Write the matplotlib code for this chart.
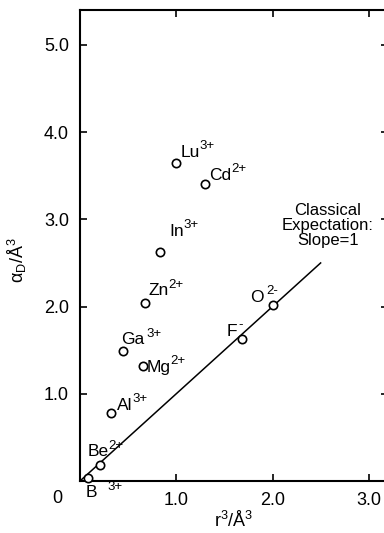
import matplotlib.pyplot as plt

plt.rcParams["font.family"] = ["Liberation Sans", "DejaVu Sans"]
plt.rcParams["mathtext.fontset"] = "custom"
plt.rcParams["mathtext.rm"] = "Liberation Sans"
plt.rcParams["mathtext.it"] = "Liberation Sans:italic"
plt.rcParams["mathtext.default"] = "regular"

# ions: r^3 (A^3) and polarizability alpha_D (A^3)
ions = ["B", "Be", "Al", "Ga", "Mg", "Zn", "In", "Lu", "Cd", "F", "O"]
charges = ["3+", "2+", "3+", "3+", "2+", "2+", "3+", "3+", "2+", "-", "2-"]
r_cubed = [0.08, 0.21, 0.32, 0.45, 0.65, 0.68, 0.83, 1.00, 1.30, 1.68, 2.00]
alpha_d = [0.03, 0.18, 0.78, 1.49, 1.32, 2.04, 2.63, 3.65, 3.41, 1.63, 2.02]
# label offsets in pixels from each point, and gap before the charge
label_dx = [-2, -13, 6, -2, 4, 3, 9, 4, 4, -15, -22]
label_dy = [-19, 9, 3, 7, -6, 8, 16, 6, 4, 3, 3]
sup_gap = [10, 0, 0, 2, 0, 0, 0, 0, 0, 1, 2]

# classical expectation, slope = 1
line_x = [0.0, 2.5]
line_y = [0.0, 2.5]

x_ticks = [1.0, 2.0, 3.0]
y_ticks = [1.0, 2.0, 3.0, 4.0, 5.0]

fig = plt.figure(figsize=(3.84, 5.33), dpi=100)
ax = fig.add_axes([80 / 384, 52 / 533, 308 / 384, 471 / 533])

ax.plot(line_x, line_y, color="black", lw=1.1, zorder=2)
ax.plot(r_cubed, alpha_d, "o", ms=6, mfc="white", mec="black", mew=1.2,
        zorder=3, clip_on=False)

for name, q, x, y, dx, dy, g in zip(ions, charges, r_cubed, alpha_d,
                                    label_dx, label_dy, sup_gap):
    main = ax.annotate(name, (x, y), xytext=(dx, dy), textcoords="offset pixels",
                       fontsize=12.5, ha="left", va="baseline")
    ax.annotate(q, xy=(1.0, 0.7), xycoords=main, xytext=(g, 0),
                textcoords="offset pixels", fontsize=9.5, ha="left",
                va="baseline")

ax.text(2.575, 2.93, "Classical\nExpectation:\nSlope=1", fontsize=12,
        ha="center", va="center", multialignment="center", linespacing=1.0)

ax.text(-0.24, -0.2, "0", fontsize=13, ha="center", va="center",
        transform=ax.transData)

ax.set_xlim(0, 3.2)
ax.set_ylim(0, 5.4)
ax.set_xticks(x_ticks)
ax.set_yticks(y_ticks)
ax.set_xticklabels(["%.1f" % v for v in x_ticks])
ax.set_yticklabels(["%.1f" % v for v in y_ticks])
ax.tick_params(direction="in", length=5, width=1.2, top=True, right=True,
               labelsize=13, pad=8)

for s in ax.spines.values():
    s.set_linewidth(1.5)
ax.spines["right"].set_visible(False)

ax.set_xlabel("r$^3$/Å$^3$", fontsize=13, labelpad=1)
ax.set_ylabel("α$_D$/Å$^3$", fontsize=13)
ax.yaxis.set_label_coords(-0.165, 0.47)

fig.savefig("out.png", dpi=100)
